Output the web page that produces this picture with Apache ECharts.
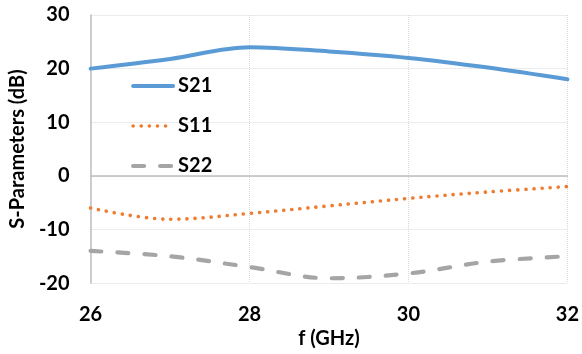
<!DOCTYPE html>
<html><head><meta charset="utf-8">
<script src="https://cdn.jsdelivr.net/npm/echarts@6/dist/echarts.min.js"></script>
<style>html,body{margin:0;padding:0;background:#fff}#c{width:582px;height:354px}</style>
</head><body><div id="c"></div>
<script>
var freqs = [26, 27, 28, 29, 30, 31, 32];
var s21 = [20, 21.8, 24, 23.2, 22, 20.2, 18];
var s11 = [-6, -8.1, -7, -5.6, -4.2, -3, -2];
var s22 = [-14, -15, -17, -19.1, -18.2, -16, -15];
var seriesNames = ['S21', 'S11', 'S22'];
var xTicks = {min: 26, max: 32, interval: 2};
var yTicks = {min: -20, max: 30, interval: 10};

function pairs(ys){ return freqs.map(function(f,i){ return [f, ys[i]]; }); }
var font = 'Lato, "Open Sans", sans-serif';
var styles = {
  S21: {width: 4, color: '#5B9BD5', type: 'solid', cap: 'round'},
  S11: {width: 3.6, color: '#ED7D31', type: [0.1, 8], cap: 'round'},
  S22: {width: 4.2, color: '#A5A5A5', type: [11, 16], cap: 'round'}
};
var chart = echarts.init(document.getElementById('c'), null, {renderer:'canvas'});
chart.setOption({
  animation: false,
  backgroundColor: '#fff',
  grid: {left: 89, right: 14, top: 15, bottom: 70},
  legend: {
    orient: 'vertical', left: 126, top: 71, itemWidth: 40, itemHeight: 14, itemGap: 20,
    itemStyle: {opacity: 0},
    textStyle: {fontFamily: font, fontWeight: 'bold', fontSize: 20, color: '#000'},
    data: seriesNames.map(function(n){ return {name: n, lineStyle: styles[n]}; })
  },
  xAxis: {
    type: 'value', min: xTicks.min, max: xTicks.max, interval: xTicks.interval,
    name: 'f (GHz)', nameLocation: 'middle', nameGap: 45,
    nameTextStyle: {fontFamily: font, fontWeight: 'bold', fontSize: 20, color: '#000'},
    axisLine: {show: true, lineStyle: {color: '#BFBFBF', width: 1.5}},
    axisTick: {show: false},
    axisLabel: {fontFamily: font, fontWeight: 'bold', fontSize: 20, color: '#000', margin: 21},
    splitLine: {show: true, lineStyle: {color: '#D9D9D9', type: 'dotted', width: 1}}
  },
  yAxis: {
    type: 'value', min: yTicks.min, max: yTicks.max, interval: yTicks.interval,
    name: 'S-Parameters (dB)', nameLocation: 'middle', nameGap: 56,
    nameTextStyle: {fontFamily: font, fontWeight: 'bold', fontSize: 20, color: '#000'},
    axisLine: {show: true, lineStyle: {color: '#BFBFBF', width: 1.5}},
    axisTick: {show: false},
    axisLabel: {fontFamily: font, fontWeight: 'bold', fontSize: 20, color: '#000', margin: 21},
    splitLine: {show: true, lineStyle: {color: '#D9D9D9', type: 'dotted', width: 1}}
  },
  series: seriesNames.map(function(n, i){
    var ys = [s21, s11, s22][i];
    return {name: n, type: 'line', data: pairs(ys), smooth: 0.35, symbol: 'none',
      color: styles[n].color, lineStyle: styles[n]};
  })
});
</script></body></html>
